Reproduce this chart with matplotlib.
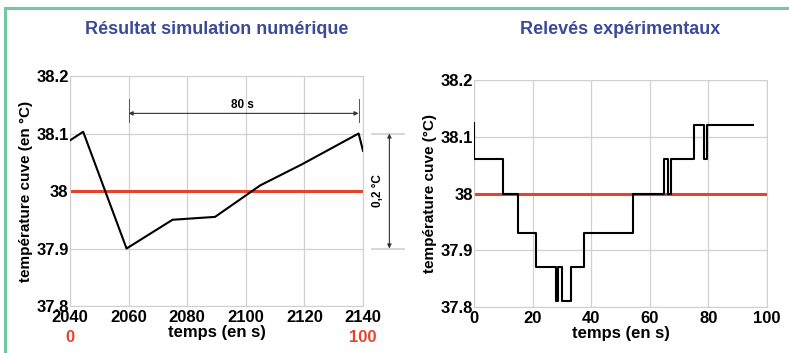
import matplotlib.pyplot as plt
from matplotlib.lines import Line2D

plt.rcParams['font.family'] = ['Liberation Sans', 'DejaVu Sans']
plt.rcParams['font.weight'] = 'bold'

# simulation (left)
sim_t = [2040, 2044.5, 2059.3, 2075, 2089.5, 2105, 2119, 2138.5, 2140]
sim_temp = [38.088, 38.103, 37.90, 37.95, 37.955, 38.01, 38.046, 38.10, 38.07]

# experimental steps (right): time of each change, level after it
exp_t = [0, 0, 10, 10, 15, 15, 21.2, 21.2, 27.9, 27.9, 28.8, 28.8, 29.9, 29.9,
         33.1, 33.1, 37.6, 37.6, 54.4, 54.4, 64.8, 64.8, 66.3, 66.3, 67.3, 67.3,
         75.2, 75.2, 78.6, 78.6, 79.6, 79.6, 95.1]
exp_temp = [38.125, 38.06, 38.06, 38.0, 38.0, 37.93, 37.93, 37.87, 37.87, 37.81,
            37.81, 37.87, 37.87, 37.81, 37.81, 37.87, 37.87, 37.93, 37.93, 38.0,
            38.0, 38.06, 38.06, 38.0, 38.0, 38.06, 38.06, 38.12, 38.12, 38.06,
            38.06, 38.12, 38.12]

consigne = 38.0
yticks = [37.8, 37.9, 38.0, 38.1, 38.2]
ytick_labels = ['37.8', '37.9', '38', '38.1', '38.2']
sim_xticks = [2040, 2060, 2080, 2100, 2120, 2140]
exp_xticks = [0, 20, 40, 60, 80, 100]

blue = '#3b4a9b'
red = '#e5432c'
grey = '#d0d0d0'

fig = plt.figure(figsize=(7.89, 3.53), dpi=100)

# green frame
fig.add_artist(Line2D([0.0063, 1.0], [0.976, 0.976], color='#74c99c', lw=2.2,
                      transform=fig.transFigure))
fig.add_artist(Line2D([0.0063, 0.0063], [0.0, 0.976], color='#74c99c', lw=2.2,
                      transform=fig.transFigure))

ax1 = fig.add_axes([0.0887, 0.1331, 0.3714, 0.6516])
ax2 = fig.add_axes([0.6008, 0.1303, 0.3714, 0.6430])


def style(ax, xticks):
    ax.set_ylim(37.8, 38.2)
    ax.set_xlim(xticks[0], xticks[-1])
    ax.set_xticks(xticks)
    ax.set_yticks(yticks)
    ax.set_yticklabels(ytick_labels)
    ax.grid(True, color=grey, lw=0.9)
    ax.tick_params(axis='y', length=0, labelsize=12, pad=1)
    ax.tick_params(axis='x', length=0, labelsize=12, pad=3)
    for s in ax.spines.values():
        s.set_color(grey)
    for lab in ax.get_xticklabels() + ax.get_yticklabels():
        lab.set_fontweight('bold')


style(ax1, sim_xticks)
ax1.plot(sim_t, sim_temp, color='black', lw=1.5, zorder=3)
ax1.axhline(consigne, color=red, lw=2.2, zorder=2)
fig.text(216.5 / 789, 1 - 30 / 353, 'Résultat simulation numérique', color=blue,
         fontsize=13, fontweight='bold', ha='center', va='center')
ax1.set_xlabel('temps (en s)', fontsize=12, fontweight='bold', labelpad=0)
ax1.set_ylabel('température cuve (en °C)', fontsize=11, fontweight='bold', labelpad=2)
ax1.text(2040, 37.746, '0', color=red, fontsize=12, fontweight='bold',
         ha='center', va='center', clip_on=False)
ax1.text(2140, 37.746, '100', color=red, fontsize=12, fontweight='bold',
         ha='center', va='center', clip_on=False)

# 80 s dimension
ax1.annotate('', xy=(2060, 38.135), xytext=(2138.5, 38.135),
             arrowprops=dict(arrowstyle='<|-|>', color='#333333', lw=0.8,
                             mutation_scale=6, shrinkA=0, shrinkB=0))
ax1.plot([2060, 2060], [38.12, 38.16], color='#555555', lw=0.7)
ax1.plot([2138.5, 2138.5], [38.12, 38.16], color='#555555', lw=0.7)
ax1.text(2099, 38.150, '80 s', fontsize=8.5, fontweight='bold', ha='center',
         va='center')

# 0,2 °C dimension
ax1.plot([2143, 2154], [38.1, 38.1], color=grey, lw=1.2, clip_on=False)
ax1.plot([2143, 2154], [37.9, 37.9], color=grey, lw=1.2, clip_on=False)
ax1.annotate('', xy=(2149, 38.1), xytext=(2149, 37.9),
             arrowprops=dict(arrowstyle='<|-|>', color='#333333', lw=0.8,
                             mutation_scale=6, shrinkA=0, shrinkB=0),
             annotation_clip=False)
ax1.text(2145, 38.0, '0,2 °C', fontsize=8.5, fontweight='bold', rotation=90,
         ha='center', va='center', clip_on=False)

style(ax2, exp_xticks)
ax2.plot(exp_t, exp_temp, color='black', lw=1.5, zorder=3)
ax2.axhline(consigne, color=red, lw=2.2, zorder=2)
fig.text(620.5 / 789, 1 - 30 / 353, 'Relevés expérimentaux', color=blue,
         fontsize=13, fontweight='bold', ha='center', va='center')
ax2.set_xlabel('temps (en s)', fontsize=12, fontweight='bold', labelpad=0)
ax2.set_ylabel('température cuve (°C)', fontsize=11, fontweight='bold', labelpad=2)

fig.savefig('out.png', dpi=100, facecolor='white')
